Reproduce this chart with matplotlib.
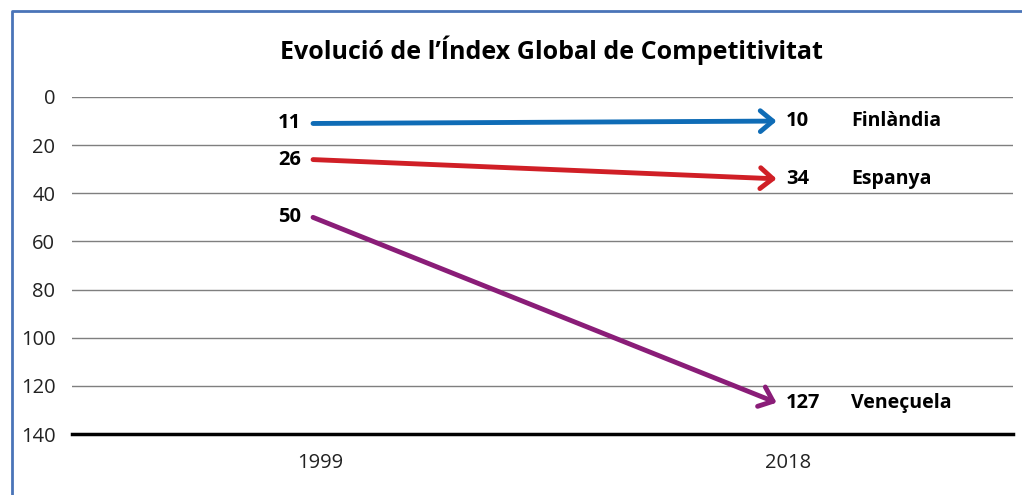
import matplotlib.pyplot as plt
from matplotlib.lines import Line2D

years = ['1999', '2018']
countries = ['Finlàndia', 'Espanya', 'Veneçuela']
rank_1999 = [11, 26, 50]
rank_2018 = [10, 34, 127]
colors = ['#0f6cb6', '#d01f26', '#8a1d78']

plt.rcParams['font.family'] = ['Open Sans', 'DejaVu Sans']

fig = plt.figure(figsize=(10.22, 4.95), dpi=100)
ax = fig.add_axes([72 / 1022, 1 - 434 / 495, (1013 - 72) / 1022, (434 - 97) / 495])

for c, a, b, col in zip(countries, rank_1999, rank_2018, colors):
    ax.annotate('', xy=(1, b), xytext=(0, a),
                arrowprops=dict(arrowstyle='->,head_length=0.9,head_width=0.75',
                                color=col, lw=3.5, shrinkA=0, shrinkB=0))
    ax.text(-0.025, a, str(a), ha='right', va='center', fontsize=14.5, fontweight='bold')
    ax.text(1.02, b, str(b), ha='left', va='center', fontsize=14.5, fontweight='bold')
    ax.text(1.16, b, c, ha='left', va='center', fontsize=14, fontweight='bold')

ax.set_ylim(140, 0)
ax.set_xlim(-0.52, 1.51)
ax.set_yticks(range(0, 141, 20))
ax.set_xticks([0.015, 1.025])
ax.set_xticklabels(years)
ax.tick_params(axis='both', length=0, labelsize=14.5, colors='#222222')
ax.tick_params(axis='x', pad=14)
ax.tick_params(axis='y', pad=12)
ax.grid(axis='y', color='#7f7f7f', lw=1)
ax.set_axisbelow(True)
for s in ['left', 'right', 'top']:
    ax.spines[s].set_visible(False)
ax.spines['bottom'].set_color('black')
ax.spines['bottom'].set_linewidth(2.5)

fig.text(0.540, 1 - 50 / 495, 'Evolució de l’Índex Global de Competitivitat',
         ha='center', va='center', fontsize=18, fontweight='bold')

fig.add_artist(Line2D([12 / 1022, 12 / 1022, 1.0], [0.0, 1 - 11 / 495, 1 - 11 / 495],
                      transform=fig.transFigure, color='#4a74b8', lw=2))

fig.savefig('out.png', dpi=100)
